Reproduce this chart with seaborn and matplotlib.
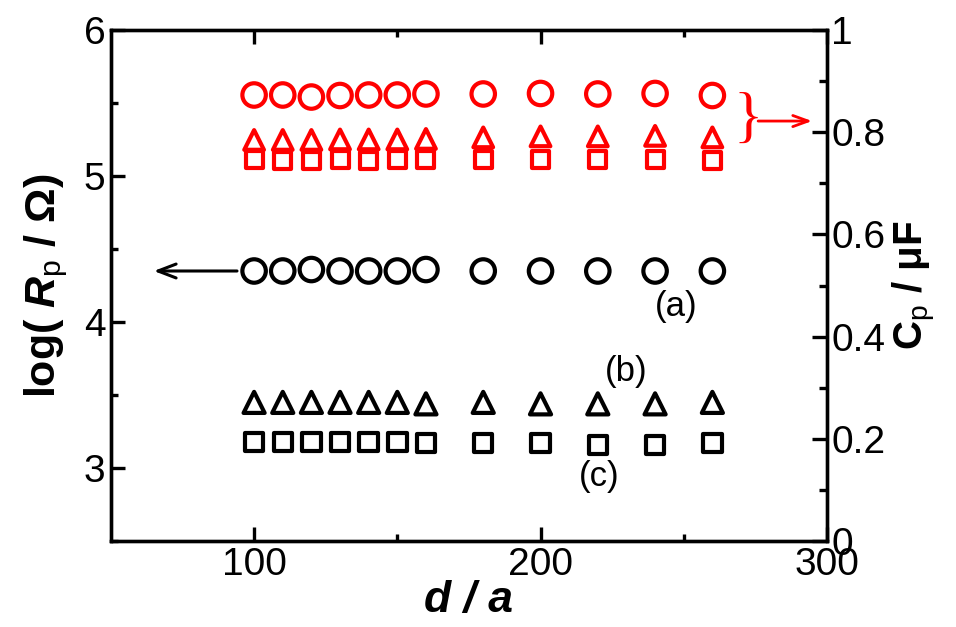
import matplotlib
matplotlib.use("Agg")
import matplotlib.pyplot as plt
import seaborn as sns
from matplotlib.ticker import MultipleLocator, FixedLocator, FuncFormatter

# d / a values
d_a = [100, 110, 120, 130, 140, 150, 160, 180, 200, 220, 240, 260]

# log(Rp / Ohm), left axis (black)
logR_a = [4.35, 4.35, 4.36, 4.35, 4.35, 4.35, 4.36, 4.35, 4.35, 4.35, 4.35, 4.35]
logR_b = [3.45, 3.45, 3.45, 3.45, 3.45, 3.45, 3.44, 3.45, 3.44, 3.44, 3.44, 3.45]
logR_c = [3.18, 3.18, 3.18, 3.18, 3.18, 3.18, 3.17, 3.17, 3.17, 3.16, 3.16, 3.17]

# Cp / uF, right axis (red)
Cp_a = [0.873, 0.873, 0.869, 0.872, 0.873, 0.873, 0.875, 0.875, 0.876, 0.875, 0.876, 0.872]
Cp_b = [0.785, 0.785, 0.785, 0.786, 0.786, 0.786, 0.787, 0.790, 0.792, 0.792, 0.793, 0.790]
Cp_c = [0.746, 0.745, 0.744, 0.746, 0.745, 0.746, 0.747, 0.746, 0.746, 0.746, 0.747, 0.745]

sns.set_style("ticks")
plt.rcParams["font.family"] = ["Liberation Sans", "DejaVu Sans"]
plt.rcParams["mathtext.fontset"] = "custom"
plt.rcParams["mathtext.rm"] = "Liberation Sans:bold"
plt.rcParams["mathtext.it"] = "Liberation Sans:bold:italic"
plt.rcParams["mathtext.bf"] = "Liberation Sans:bold"
plt.rcParams["mathtext.sf"] = "Liberation Sans"
for key in ["text.color", "axes.labelcolor", "xtick.color", "ytick.color", "axes.edgecolor"]:
    plt.rcParams[key] = "black"

fig = plt.figure(figsize=(9.56, 6.27), dpi=100)
ax = fig.add_axes([0.116, 0.137, 0.749, 0.815])
ax2 = ax.twinx()

lw = 3.0
sns.scatterplot(x=d_a, y=logR_a, marker="o", s=285, facecolor="none",
                edgecolor="black", linewidth=lw, ax=ax)
sns.scatterplot(x=d_a, y=logR_b, marker="^", s=230, facecolor="none",
                edgecolor="black", linewidth=lw, ax=ax)
sns.scatterplot(x=d_a, y=logR_c, marker="s", s=175, facecolor="none",
                edgecolor="black", linewidth=lw, ax=ax)

sns.scatterplot(x=d_a, y=Cp_a, marker="o", s=285, facecolor="none",
                edgecolor="red", linewidth=lw, ax=ax2)
sns.scatterplot(x=d_a, y=Cp_b, marker="^", s=200, facecolor="none",
                edgecolor="red", linewidth=lw, ax=ax2)
sns.scatterplot(x=d_a, y=Cp_c, marker="s", s=150, facecolor="none",
                edgecolor="red", linewidth=lw, ax=ax2)

ax.set_xlim(50, 300)
ax.set_ylim(2.5, 6)
ax2.set_ylim(0, 1)

ax.xaxis.set_major_locator(FixedLocator([100, 200, 300]))
ax.xaxis.set_minor_locator(FixedLocator([150, 250]))
ax.yaxis.set_major_locator(MultipleLocator(1))
ax.yaxis.set_minor_locator(MultipleLocator(0.5))
ax2.yaxis.set_major_locator(MultipleLocator(0.2))
ax2.yaxis.set_minor_locator(MultipleLocator(0.1))
ax2.yaxis.set_major_formatter(FuncFormatter(lambda v, _: f"{v:g}"))

for a in (ax, ax2):
    for sp in a.spines.values():
        sp.set_linewidth(2.4)
        sp.set_visible(True)
        sp.set_color("black")
ax.tick_params(axis="both", which="both", direction="in", width=2.4,
               labelsize=28, top=True, right=False, pad=4)
ax.tick_params(which="major", length=10)
ax.tick_params(which="minor", length=5)
ax2.tick_params(axis="y", which="both", direction="in", width=2.4,
                labelsize=28, pad=3)
ax2.tick_params(which="major", length=11)
ax2.tick_params(which="minor", length=6)

ax.set_xlabel("d / a", fontsize=32, fontweight="bold", fontstyle="italic", labelpad=-2)
ax.set_ylabel(r"log( $R_\mathsf{p}$ / $\mathit{\Omega}$)", fontsize=31,
              fontweight="bold", labelpad=10)
ax2.set_ylabel(r"$\mathbf{C}_\mathsf{p}$ / $\mathbf{\mu}$F", fontsize=29,
               fontweight="bold", labelpad=4)

# annotations
ax.annotate("", xy=(64, 4.35), xytext=(95, 4.35),
            arrowprops=dict(arrowstyle="->,head_length=1.3,head_width=0.5",
                            color="black", lw=2.2))
ax.text(247.5, 4.11, "(a)", fontsize=25, ha="center", va="center")
ax.text(230, 3.66, "(b)", fontsize=25, ha="center", va="center")
ax.text(220.5, 2.94, "(c)", fontsize=25, ha="center", va="center")

ax2.text(272.5, 0.822, "}", fontsize=44, color="red", ha="center", va="center",
         family="Liberation Serif", fontweight="normal")
ax2.annotate("", xy=(295.8, 0.822), xytext=(275.0, 0.822),
             arrowprops=dict(arrowstyle="->,head_length=1.1,head_width=0.4",
                             color="red", lw=2))

fig.savefig("out.png", dpi=100)
